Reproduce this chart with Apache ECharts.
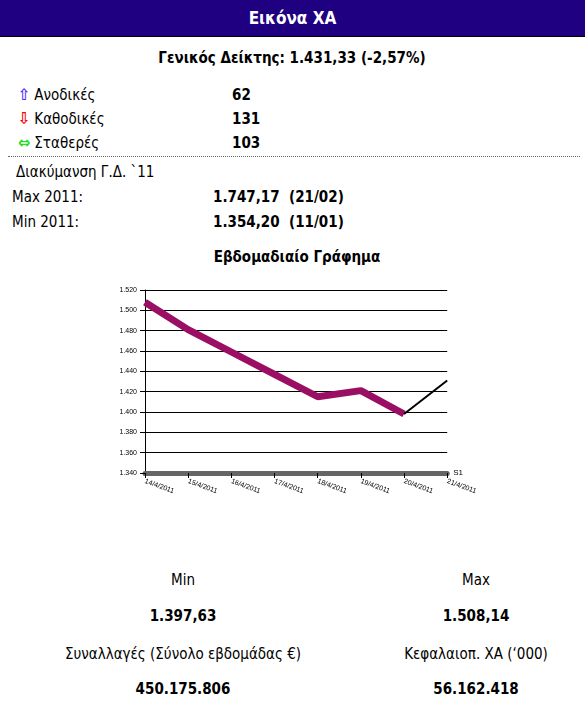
<!DOCTYPE html>
<html><head><meta charset="utf-8">
<script src="https://cdn.jsdelivr.net/npm/echarts@6/dist/echarts.min.js"></script>
<style>
body{margin:0;width:585px;height:701px;background:#fff;font-family:"DejaVu Sans Condensed","Liberation Sans",sans-serif;color:#000;position:relative;overflow:hidden}
.t{position:absolute;font-size:15px;line-height:18px;white-space:nowrap}
.b{font-weight:bold}
.c{transform:translateX(-50%)}
.a{font-weight:bold;font-size:16px}
#hdr{position:absolute;left:0;top:0;width:585px;height:36px;background:#1e0080;color:#fff;font-weight:bold;font-size:17px;text-align:center;line-height:36px;border-bottom:1px solid #000}
#sep{position:absolute;left:8px;top:156px;width:572px;border-top:1px dotted #666}
#chart{position:absolute;left:100px;top:278px;width:380px;height:250px}
</style></head><body>
<div id="hdr">Εικόνα ΧΑ</div>
<div class="t b c" style="left:292px;top:49px">Γενικός Δείκτης: 1.431,33 (-2,57%)</div>
<div class="t" style="left:18px;top:86px"><span class="a" style="color:#5a2cff">⇧</span> Ανοδικές</div>
<div class="t b" style="left:232px;top:86px">62</div>
<div class="t" style="left:18px;top:110px"><span class="a" style="color:#f00">⇩</span> Καθοδικές</div>
<div class="t b" style="left:232px;top:110px">131</div>
<div class="t" style="left:18px;top:134px"><span class="a" style="color:#2d2">⇔</span> Σταθερές</div>
<div class="t b" style="left:232px;top:134px">103</div>
<div id="sep"></div>
<div class="t" style="left:16px;top:163px">Διακύμανση Γ.Δ. `11</div>
<div class="t" style="left:12px;top:188px">Max 2011:</div>
<div class="t b" style="left:213px;top:188px">1.747,17 &nbsp;(21/02)</div>
<div class="t" style="left:12px;top:213px">Min 2011:</div>
<div class="t b" style="left:213px;top:213px">1.354,20 &nbsp;(11/01)</div>
<div class="t b c" style="left:297px;top:248px">Εβδομαδιαίο Γράφημα</div>
<div id="chart"></div>
<div class="t c" style="left:183px;top:571px">Min</div>
<div class="t c" style="left:476px;top:571px">Max</div>
<div class="t b c" style="left:183px;top:607px">1.397,63</div>
<div class="t b c" style="left:476px;top:607px">1.508,14</div>
<div class="t c" style="left:183px;top:645px">Συναλλαγές (Σύνολο εβδομάδας €)</div>
<div class="t c" style="left:476px;top:645px">Κεφαλαιοπ. ΧΑ (‘000)</div>
<div class="t b c" style="left:183px;top:680px">450.175.806</div>
<div class="t b c" style="left:476px;top:680px">56.162.418</div>
<script>
const dates=['14/4/2011','15/4/2011','16/4/2011','17/4/2011','18/4/2011','19/4/2011','20/4/2011','21/4/2011'];
const values=[1508,1481,1459,1437,1415,1421,1398,1431];
const yTicks={min:1340,max:1520,interval:20};
const purple=values.map((v,i)=>i<7?v:null);
const black=values.map((v,i)=>i>=6?v:null);
const ch=echarts.init(document.getElementById('chart'));
ch.setOption({
 animation:false,
 grid:{left:45,right:30,top:12,bottom:55},
 xAxis:{type:'category',data:dates,boundaryGap:false,name:'S1',nameGap:6,nameTextStyle:{fontSize:8,color:'#000'},
  axisLabel:{fontSize:7,rotate:-20,color:'#000',interval:0},
  axisLine:{lineStyle:{color:'#666',width:5}},axisTick:{show:true,lineStyle:{color:'#000'}}},
 yAxis:{type:'value',min:yTicks.min,max:yTicks.max,interval:yTicks.interval,
  axisLabel:{fontSize:7,color:'#000',formatter:v=>(v/1000).toFixed(3)},
  axisLine:{show:true,lineStyle:{color:'#000'}},axisTick:{show:true},
  splitLine:{lineStyle:{color:'#000',width:1}}},
 series:[
  {type:'line',data:purple,symbol:'none',lineStyle:{color:'#9a0f63',width:7}},
  {type:'line',data:black,symbol:'none',lineStyle:{color:'#000',width:2}}
 ]
});
</script>
</body></html>
